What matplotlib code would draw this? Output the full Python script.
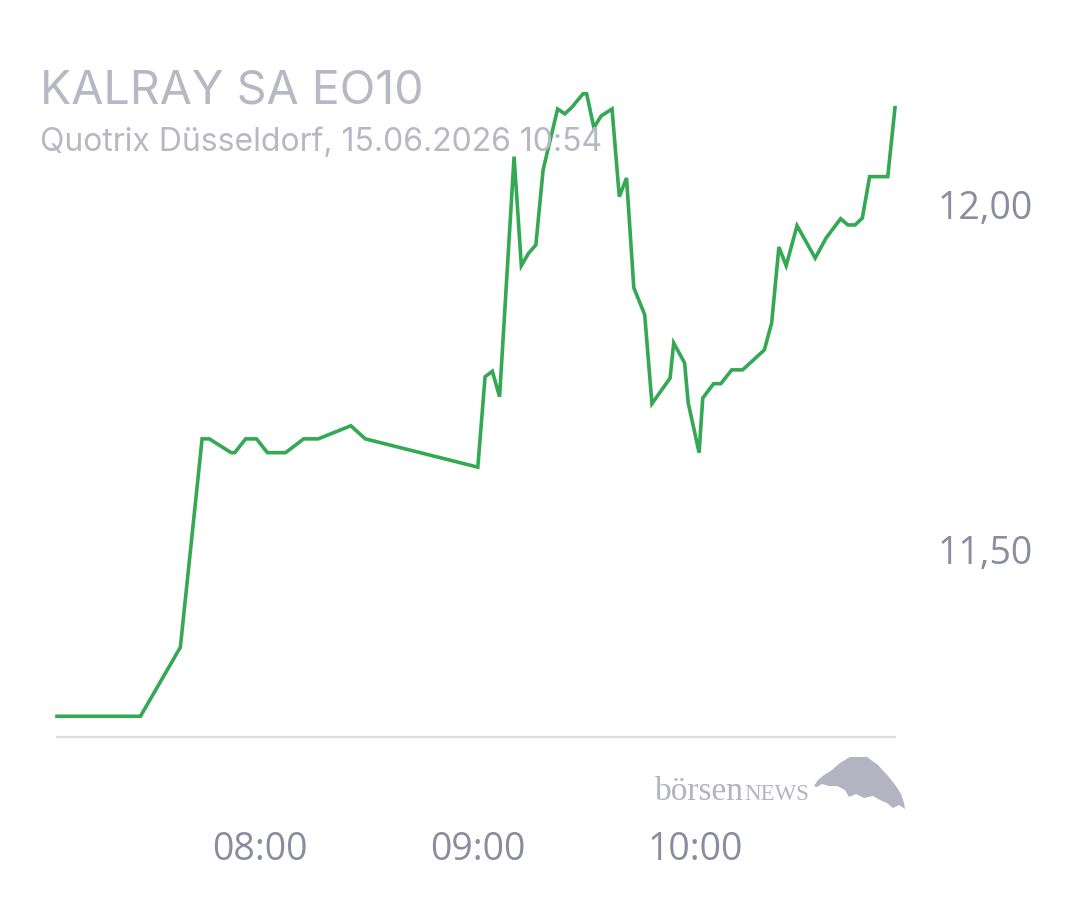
import matplotlib
matplotlib.use("Agg")
import matplotlib.pyplot as plt
import matplotlib.dates as mdates
from matplotlib.ticker import FuncFormatter, FixedLocator
import pandas as pd

# ---- data ----
times = ["07:04", "07:27", "07:38", "07:44", "07:46", "07:52", "07:53", "07:56",
         "07:59", "08:02", "08:07", "08:12", "08:16", "08:25", "08:29", "09:00",
         "09:02", "09:04", "09:06", "09:10", "09:12", "09:14", "09:16", "09:18",
         "09:22", "09:24", "09:26", "09:29", "09:30", "09:32", "09:34", "09:37",
         "09:39", "09:41", "09:43", "09:46", "09:48", "09:53", "09:54", "09:57",
         "09:58", "10:01", "10:02", "10:05", "10:07", "10:10", "10:13", "10:19",
         "10:21", "10:23", "10:25", "10:28", "10:33", "10:36", "10:40", "10:42",
         "10:44", "10:46", "10:48", "10:53", "10:55"]
prices = [11.259, 11.259, 11.359, 11.661, 11.661, 11.641, 11.641, 11.661,
          11.661, 11.641, 11.641, 11.661, 11.661, 11.680, 11.661, 11.620,
          11.751, 11.759, 11.722, 12.070, 11.912, 11.930, 11.942, 12.051,
          12.139, 12.132, 12.142, 12.161, 12.161, 12.112, 12.129, 12.139,
          12.012, 12.039, 11.880, 11.841, 11.712, 11.749, 11.800, 11.771,
          11.713, 11.641, 11.720, 11.741, 11.741, 11.761, 11.761, 11.790,
          11.829, 11.939, 11.912, 11.970, 11.923, 11.952, 11.980, 11.971,
          11.971, 11.981, 12.041, 12.041, 12.141]
y_ticks = [11.50, 12.00]
x_ticks = ["08:00", "09:00", "10:00"]
title = "KALRAY SA EO10"
subtitle = "Quotrix Düsseldorf, 15.06.2026 10:54"

day = "2026-06-15 "
t = pd.to_datetime([day + s for s in times])
xt = pd.to_datetime([day + s for s in x_ticks])

W, H = 1080, 900
fig = plt.figure(figsize=(W / 100, H / 100), dpi=100)
fig.patch.set_facecolor("white")

ax_l, ax_r, ax_b, ax_t = 57, 895, 737, 60
ax = fig.add_axes([ax_l / W, 1 - ax_b / H, (ax_r - ax_l) / W, (ax_b - ax_t) / H])
ax.set_facecolor("white")

ax.plot(t, prices, color="#34a853", lw=2.6, solid_joinstyle="miter", clip_on=False)

ax.set_xlim(t[0], t[-1])
ax.set_ylim(11.229, 12.210)

for s in ["top", "left", "right"]:
    ax.spines[s].set_visible(False)
ax.spines["bottom"].set_color("#dedede")
ax.spines["bottom"].set_linewidth(1.6)

tick_color = "#8a8c9f"
tick_font = "Open Sans"

ax.xaxis.set_major_locator(FixedLocator(mdates.date2num(xt)))
ax.xaxis.set_major_formatter(mdates.DateFormatter("%H:%M"))
ax.tick_params(axis="x", length=0, pad=68, labelsize=27, labelcolor=tick_color)
for lab in ax.get_xticklabels():
    lab.set_fontfamily(tick_font)

ax.yaxis.set_major_locator(FixedLocator(y_ticks))
ax.yaxis.set_major_formatter(FuncFormatter(lambda v, p: f"{v:.2f}".replace(".", ",")))
ax.yaxis.tick_right()
ax.tick_params(axis="y", length=0, pad=65, labelsize=27, labelcolor=tick_color)
for tk in ax.yaxis.get_major_ticks():
    tk.label2.set_ha("center")
    tk.label2.set_fontfamily(tick_font)

# title / subtitle
fig.text(40 / W, 1 - 103 / H, title, fontsize=33.5, color="#b8b8c5",
         family="Inter", va="baseline", ha="left")
fig.text(40 / W, 1 - 151 / H, subtitle, fontsize=23, color="#b8b8c5",
         family="Inter", va="baseline", ha="left")

# logo
logo_color = "#b3b3c1"
t1 = fig.text(655 / W, 1 - 800 / H, "börsen", fontsize=24, color=logo_color,
              family="Liberation Serif", va="baseline", ha="left")
fig.canvas.draw()
bb = t1.get_window_extent(renderer=fig.canvas.get_renderer())
fig.text(bb.x1 / W, 1 - 800 / H, "NEWS", fontsize=16.5, color=logo_color,
         family="Liberation Serif", va="baseline", ha="left")
bull = [(814, 786), (818, 780), (824, 775), (832, 770), (840, 763), (850, 757),
        (867, 757), (878, 765), (888, 776), (896, 786), (901, 794), (904, 803),
        (905, 809), (899, 805), (893, 808), (887, 803), (880, 800), (873, 796),
        (864, 798), (856, 794), (849, 797), (845, 790), (837, 786), (829, 786),
        (822, 784), (817, 787)]
fig.patches.append(plt.Polygon([(x / W, 1 - y / H) for x, y in bull],
                               closed=True, transform=fig.transFigure,
                               facecolor=logo_color, edgecolor="none"))

fig.savefig("out.png", dpi=100, facecolor="white")
